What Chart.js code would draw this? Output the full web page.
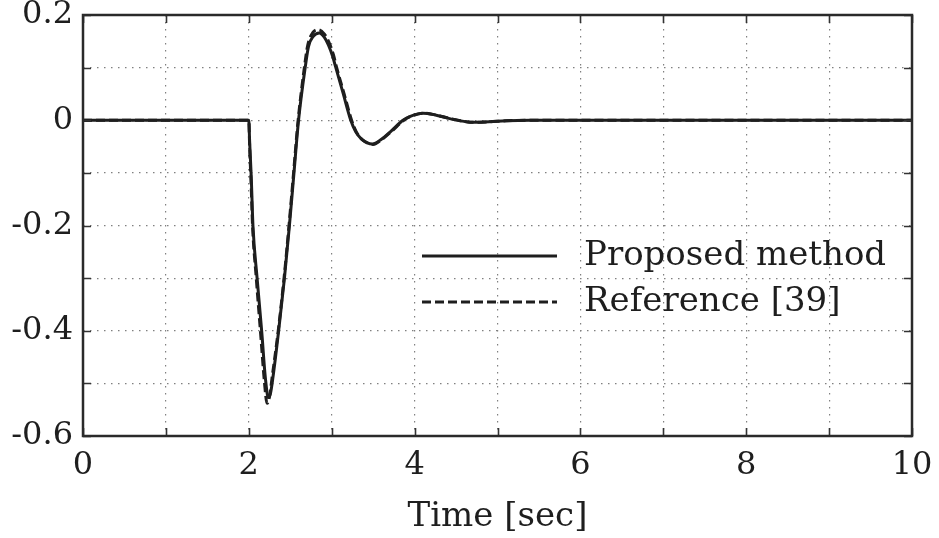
<!DOCTYPE html>
<html>
<head>
<meta charset="utf-8">
<script src="https://cdn.jsdelivr.net/npm/chart.js@4.4.0/dist/chart.umd.min.js"></script>
<style>
  html, body { margin: 0; padding: 0; background: #fff; }
  #wrap { width: 939px; height: 538px; }
</style>
</head>
<body>
<div id="wrap"><canvas id="respChart" width="939" height="538"></canvas></div>
<script>
// Response data: time [sec] and value for each method
const timeProposed = [0, 2.0, 2.01, 2.03, 2.05, 2.10, 2.155, 2.20, 2.235, 2.26, 2.29, 2.36, 2.43, 2.49, 2.545, 2.60, 2.68, 2.72, 2.78, 2.85, 2.91, 2.96, 3.01, 3.05, 3.14, 3.23, 3.29, 3.36, 3.43, 3.49, 3.60, 3.72, 3.86, 3.94, 4.10, 4.25, 4.40, 4.55, 4.70, 4.90, 5.10, 5.40, 6.0, 10];
const valuesProposed = [0, 0, -0.04, -0.11, -0.20, -0.30, -0.40, -0.49, -0.527, -0.52, -0.49, -0.40, -0.30, -0.20, -0.10, 0.0, 0.10, 0.14, 0.160, 0.166, 0.158, 0.143, 0.122, 0.10, 0.05, 0.0, -0.022, -0.036, -0.043, -0.045, -0.036, -0.020, 0.0, 0.007, 0.0135, 0.010, 0.004, -0.001, -0.004, -0.003, -0.001, 0.0, 0.0, 0];

const timeReference = [0, 2.0, 2.01, 2.03, 2.045, 2.09, 2.14, 2.19, 2.22, 2.25, 2.28, 2.355, 2.425, 2.485, 2.54, 2.595, 2.67, 2.71, 2.77, 2.84, 2.91, 2.97, 3.02, 3.06, 3.15, 3.24, 3.30, 3.37, 3.44, 3.50, 3.61, 3.73, 3.87, 3.95, 4.11, 4.26, 4.41, 4.56, 4.71, 4.91, 5.11, 5.40, 6.0, 10];
const valuesReference = [0, 0, -0.05, -0.13, -0.20, -0.30, -0.40, -0.50, -0.538, -0.525, -0.49, -0.40, -0.30, -0.20, -0.10, 0.0, 0.10, 0.142, 0.166, 0.172, 0.164, 0.147, 0.125, 0.10, 0.05, 0.0, -0.023, -0.037, -0.044, -0.046, -0.036, -0.020, 0.0, 0.007, 0.0135, 0.010, 0.004, -0.001, -0.004, -0.003, -0.001, 0.0, 0.0, 0];

const seriesLabels = ['Proposed method', 'Reference [39]'];
const xTickLabels = [0, 2, 4, 6, 8, 10];
const yTickLabels = [-0.6, -0.4, -0.2, 0, 0.2];

const FONT = "'DejaVu Serif', 'Liberation Serif', serif";
const INK = '#1e1e1e';

const toPoints = (xs, ys) => xs.map((x, i) => ({ x: x, y: ys[i] }));

// Box frame, inward tick marks and in-plot legend
const framePlugin = {
    id: 'frame',
    afterDraw(chart) {
        const { ctx, chartArea: a, scales } = chart;
        ctx.save();
        ctx.strokeStyle = '#333';
        ctx.lineWidth = 1.6;
        const len = 8;
        scales.x.ticks.forEach(t => {
            const px = Math.round(scales.x.getPixelForValue(t.value)) + 0.5;
            ctx.beginPath();
            ctx.moveTo(px, a.bottom); ctx.lineTo(px, a.bottom - len);
            ctx.moveTo(px, a.top); ctx.lineTo(px, a.top + len);
            ctx.stroke();
        });
        scales.y.ticks.forEach(t => {
            const py = Math.round(scales.y.getPixelForValue(t.value)) + 0.5;
            ctx.beginPath();
            ctx.moveTo(a.left, py); ctx.lineTo(a.left + len, py);
            ctx.moveTo(a.right, py); ctx.lineTo(a.right - len, py);
            ctx.stroke();
        });
        ctx.lineWidth = 2.5;
        ctx.strokeStyle = '#2a2a2a';
        ctx.strokeRect(a.left, a.top, a.right - a.left, a.bottom - a.top);

        // legend
        const rows = [256, 302];
        chart.data.datasets.forEach((ds, i) => {
            ctx.beginPath();
            ctx.lineWidth = ds.borderWidth;
            ctx.strokeStyle = ds.borderColor;
            ctx.setLineDash(ds.borderDash || []);
            ctx.moveTo(422, rows[i]);
            ctx.lineTo(557, rows[i]);
            ctx.stroke();
            ctx.setLineDash([]);
            ctx.fillStyle = INK;
            ctx.font = '34px ' + FONT;
            ctx.textBaseline = 'middle';
            ctx.textAlign = 'left';
            ctx.fillText(ds.label, 584, rows[i]);
        });
        ctx.restore();
    }
};

new Chart(document.getElementById('respChart'), {
    type: 'line',
    data: {
        datasets: [{
            label: seriesLabels[0],
            data: toPoints(timeProposed, valuesProposed),
            borderColor: INK,
            borderWidth: 3,
            pointRadius: 0,
            cubicInterpolationMode: 'monotone'
        }, {
            label: seriesLabels[1],
            data: toPoints(timeReference, valuesReference),
            borderColor: INK,
            borderWidth: 3,
            borderDash: [9, 4],
            pointRadius: 0,
            cubicInterpolationMode: 'monotone'
        }]
    },
    options: {
        responsive: false,
        animation: false,
        layout: { padding: { top: 15, right: 27, left: 0, bottom: 0 } },
        plugins: { legend: { display: false }, tooltip: { enabled: false } },
        scales: {
            x: {
                type: 'linear',
                min: 0, max: 10,
                ticks: {
                    stepSize: 1,
                    autoSkip: false,
                    maxRotation: 0,
                    padding: 10,
                    color: INK,
                    font: { family: FONT, size: 32 },
                    callback: v => xTickLabels.includes(v) ? String(v) : ''
                },
                grid: { color: '#808080', lineWidth: 1.2, drawTicks: false },
                border: { display: false, dash: [1.5, 5.5] },
                title: {
                    display: true,
                    text: 'Time [sec]',
                    color: INK,
                    font: { family: FONT, size: 34 },
                    padding: { top: 4, bottom: 0 }
                },
                afterFit: s => {
                    s.height = 538 - 436;
                    s.paddingLeft = 0;
                    s.paddingRight = 0;
                }
            },
            y: {
                min: -0.6, max: 0.2,
                ticks: {
                    stepSize: 0.1,
                    padding: 10,
                    color: INK,
                    font: { family: FONT, size: 32 },
                    callback: v => {
                        const r = Math.round(v * 10) / 10;
                        return yTickLabels.includes(r) ? String(r) : '';
                    }
                },
                grid: { color: '#808080', lineWidth: 1.2, drawTicks: false },
                border: { display: false, dash: [1.5, 5.5] },
                afterFit: s => {
                    s.width = 83;
                    s.paddingTop = 0;
                    s.paddingBottom = 0;
                }
            }
        }
    },
    plugins: [framePlugin]
});
</script>
</body>
</html>
